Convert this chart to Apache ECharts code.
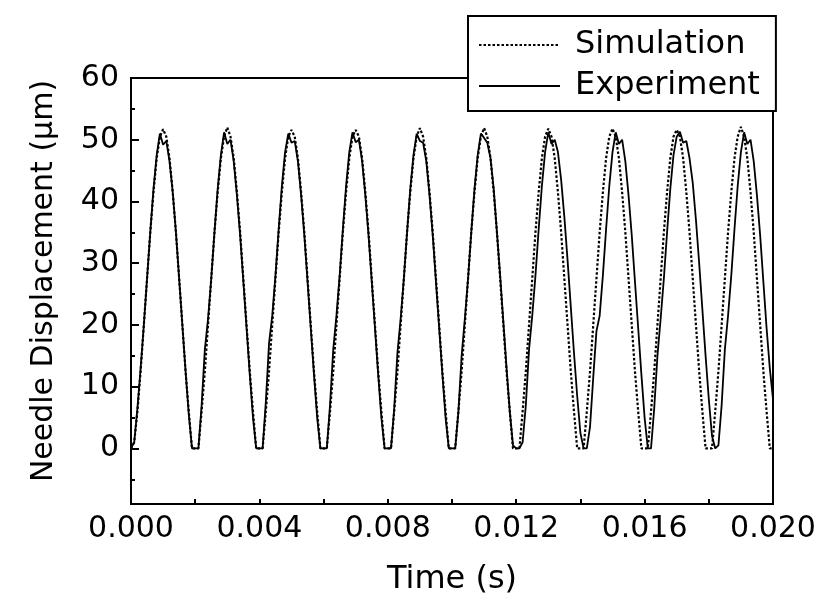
<!DOCTYPE html>
<html><head><meta charset="utf-8">
<script src="https://cdn.jsdelivr.net/npm/echarts@6/dist/echarts.min.js"></script>
<style>html,body{margin:0;padding:0;background:#fff}#c{width:826px;height:601px}</style>
</head><body><div id="c"></div>
<script>
// sampling step of the time axis (s)
const TIME_STEP = 0.0001;

// Needle displacement (µm), every 0.1 ms, from 0 to 0.020 s
const simulation = [
  0, 1, 6, 12.5, 20, 27.5, 35, 41.5, 47, 50.5, 51.7, 50.5, 47, 41.5, 35, 27.5, 20, 12.5, 6, 0,
  0, 0, 6, 12.5, 20, 27.5, 35, 41.5, 47, 50.5, 52, 50.5, 47, 41.5, 35, 27.5, 20, 12.5, 6, 0,
  0, 0, 6, 12.5, 20, 27.5, 35, 41.5, 47, 50.5, 51.6, 50.5, 47, 41.5, 35, 27.5, 20, 12.5, 6, 0,
  0, 0, 6, 12.5, 20, 27.5, 35, 41.5, 47, 50.5, 51.6, 50.5, 47, 41.5, 35, 27.5, 20, 12.5, 6, 0,
  0, 0, 6, 12.5, 20, 27.5, 35, 41.5, 47, 50.5, 51.9, 50.5, 47, 41.5, 35, 27.5, 20, 12.5, 6, 0,
  0, 0, 6, 12.5, 20, 27.5, 35, 41.5, 47, 50.5, 51.9, 50.5, 47, 41.5, 35, 27.5, 20, 12.5, 6, 0,
  0, 0, 6, 12.5, 20, 27.5, 35, 41.5, 47, 50.5, 51.8, 50.5, 47, 41.5, 35, 27.5, 20, 12.5, 6, 0,
  0, 0, 6, 12.5, 20, 27.5, 35, 41.5, 47, 50.5, 51.8, 50.5, 47, 41.5, 35, 27.5, 20, 12.5, 6, 0,
  0, 0, 6, 12.5, 20, 27.5, 35, 41.5, 47, 50.5, 51.6, 50.5, 47, 41.5, 35, 27.5, 20, 12.5, 6, 0,
  0, 0, 6, 12.5, 20, 27.5, 35, 41.5, 47, 50.5, 52.1, 50.5, 47, 41.5, 35, 27.5, 20, 12.5, 6, 0,
  0
];
const experiment = [
  0, 1, 6.5, 13, 20, 27.5, 35, 42, 47.5, 51, 49.2, 49.8, 46.5, 41.5, 35, 27.5, 20, 12.5, 5.5, 0,
  0, 0, 7, 16, 21, 27.5, 35, 42, 47.5, 51.2, 49.3, 50, 46.5, 41, 34.5, 27, 19.5, 12, 5, 0,
  0, 0, 7.5, 17, 21.5, 28, 35.5, 42.5, 48, 51, 49.5, 49.8, 46.5, 41, 34.5, 27, 19.5, 12, 5, 0,
  0, 0, 7, 16, 21.5, 28, 35.5, 42.5, 48, 51.2, 49.6, 50, 46.5, 41, 34.5, 27, 19.5, 12, 5, 0,
  0, 0, 6.5, 15.5, 21, 27.5, 35, 42, 47.5, 51, 49.8, 49.5, 46.5, 41, 34.5, 27, 19.5, 12, 5, 0,
  0, 0, 6, 15, 21, 27.5, 35, 42, 47.5, 51, 50.3, 49.5, 47, 42, 35, 28, 20.5, 13, 6, 0.5,
  0, 0, 1, 7, 16, 21.5, 28, 35.5, 42.5, 48, 51.2, 49.3, 50, 48, 43.5, 37.5, 30.5, 23, 15.5, 8.5,
  2.5, 0, 0, 3.5, 11.5, 19, 21.5, 28, 35.5, 42.5, 48, 51.2, 49.3, 50, 46.5, 41, 34.5, 27, 19.5, 12,
  5, 0, 0, 6.5, 15, 21, 27.5, 35, 42, 47.5, 50.5, 51.3, 49.5, 49.8, 47, 43, 37, 30, 22.5, 15,
  8, 2, 0, 0.5, 7, 16, 21.5, 28, 35.5, 42.5, 48, 51.2, 49.3, 50, 46.5, 41, 34.5, 27, 19.5, 13,
  8
];

const seriesNames = ['Simulation', 'Experiment'];
const xTickLabels = ['0.000', '0.004', '0.008', '0.012', '0.016', '0.020'];
const yTickLabels = ['0', '10', '20', '30', '40', '50', '60'];

const FONT = 'DejaVu Sans';
const toPairs = arr => arr.map((v, i) => [+(i * TIME_STEP).toFixed(4), v]);

const chart = echarts.init(document.getElementById('c'), null, {renderer: 'canvas'});
chart.setOption({
  animation: false,
  backgroundColor: '#fff',
  grid: {left: 131, right: 53, top: 78, bottom: 93, show: true, borderColor: '#000', borderWidth: 2, backgroundColor: 'transparent'},
  legend: {
    data: seriesNames,
    orient: 'vertical',
    left: 468, top: 16,
    padding: [13, 16, 9, 10],
    itemGap: 9,
    itemWidth: 81, itemHeight: 14,
    backgroundColor: '#fff',
    borderColor: '#000', borderWidth: 2, borderRadius: 0,
    itemStyle: {opacity: 0},
    textStyle: {fontFamily: FONT, fontSize: 32, color: '#000', padding: [0, 0, 0, 10]}
  },
  xAxis: {
    type: 'value', min: 0, max: 0.02, interval: 0.002,
    name: 'Time (s)', nameLocation: 'middle', nameGap: 60,
    nameTextStyle: {fontFamily: FONT, fontSize: 32, color: '#000'},
    axisLine: {show: true, onZero: false, lineStyle: {color: '#000', width: 2}},
    axisTick: {show: true, inside: true, length: 5, lineStyle: {color: '#000', width: 2}},
    splitLine: {show: false},
    axisLabel: {
      margin: 10, fontFamily: FONT, fontSize: 30, color: '#000',
      formatter: v => {
        const k = Math.round(v / 0.002);
        return k % 2 === 0 ? xTickLabels[k / 2] : '';
      }
    }
  },
  yAxis: {
    type: 'value', min: -9, max: 60, splitNumber: 7,
    name: 'Needle Displacement (\u03bcm)', nameLocation: 'middle', nameGap: 72,
    nameTextStyle: {fontFamily: FONT, fontSize: 30, color: '#000', padding: [0, 0, 0, 20]},
    axisLine: {show: true, onZero: false, lineStyle: {color: '#000', width: 2}},
    axisTick: {show: true, inside: true, length: 8, lineStyle: {color: '#000', width: 2}},
    minorTick: {show: true, splitNumber: 2, length: 4, lineStyle: {color: '#000', width: 2}},
    splitLine: {show: false},
    axisLabel: {
      margin: 12, fontFamily: FONT, fontSize: 30, color: '#000',
      formatter: v => {
        const r = Math.round(v);
        const idx = yTickLabels.indexOf(String(r));
        return (Math.abs(v - r) < 1e-6 && idx >= 0) ? yTickLabels[idx] : '';
      }
    }
  },
  series: [
    {name: seriesNames[0], type: 'line', data: toPairs(simulation), symbol: 'none', z: 3,
     lineStyle: {color: '#000', width: 2.2, type: [2.5, 2]}, itemStyle: {color: '#000'}},
    {name: seriesNames[1], type: 'line', data: toPairs(experiment), symbol: 'none', z: 2,
     lineStyle: {color: '#000', width: 1.8, type: 'solid'}, itemStyle: {color: '#000'}}
  ]
});
</script>
</body></html>
